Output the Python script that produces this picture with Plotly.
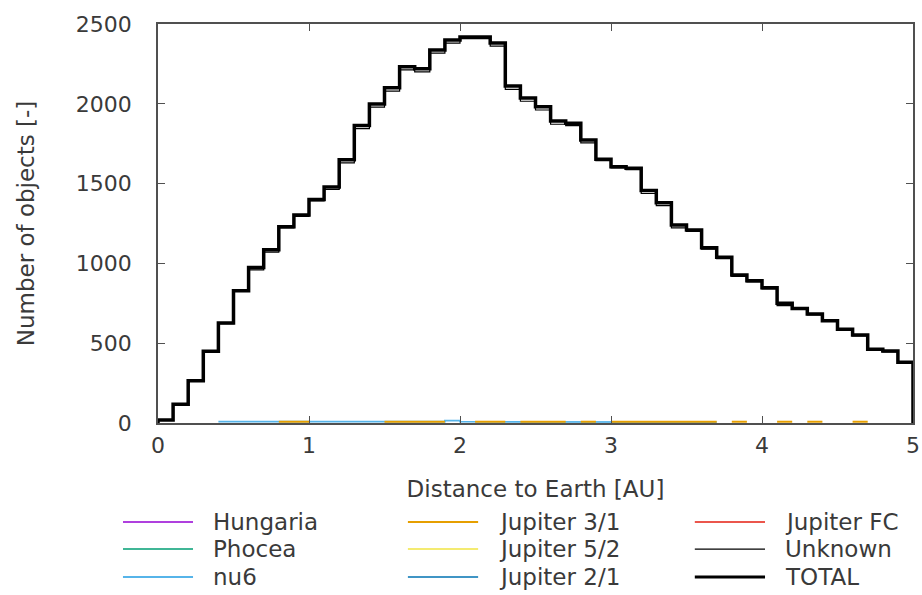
import numpy as np
import plotly.graph_objects as go

# ---------------- data ----------------
BIN_START = 0.0
BIN_WIDTH = 0.1
N_BINS = 50

total = [19, 117, 265, 450, 626, 828, 975, 1086, 1230, 1303,
         1400, 1478, 1650, 1864, 1999, 2100, 2232, 2220, 2337, 2400,
         2418, 2418, 2381, 2111, 2036, 1981, 1892, 1878, 1773, 1652,
         1606, 1596, 1456, 1380, 1241, 1209, 1098, 1038, 927, 892,
         848, 750, 718, 683, 641, 587, 551, 462, 451, 380]

unknown_deficit = [3, 3, 3, 3, 3, 3, 15, 15, 8, 8,
                   8, 15, 20, 20, 20, 20, 20, 20, 20, 20,
                   10, 10, 20, 20, 20, 20, 20, 15, 18, 8,
                   8, 8, 18, 18, 18, 8, 8, 8, 8, 8,
                   8, 15, 5, 5, 5, 5, 5, 5, 5, 5]
unknown = [t - d for t, d in zip(total, unknown_deficit)]

nu6 = [0, 0, 0, 0, 8, 8, 8, 8, 8, 8,
       8, 8, 8, 8, 8, 8, 8, 8, 8, 15,
       8, 6, 6, 8, 6, 6, 6, 8, 6, 8,
       6, 6, 6, 6, 6, 6, 6, 0, 0, 0,
       0, 0, 0, 0, 0, 0, 0, 0, 0, 0]

jup31 = [0, 0, 0, 0, 0, 0, 0, 0, 8, 8,
         0, 0, 0, 0, 0, 8, 8, 8, 8, 0,
         0, 8, 8, 0, 8, 8, 8, 0, 8, 0,
         8, 8, 8, 8, 8, 8, 8, 0, 8, 0,
         0, 8, 0, 8, 0, 0, 8, 0, 0, 0]

zeros = [0] * N_BINS
hungaria = zeros
phocea = zeros
jup52 = zeros
jup21 = zeros
jupfc = zeros

series_names = ["Hungaria", "Phocea", "nu6", "Jupiter 3/1", "Jupiter 5/2",
                "Jupiter 2/1", "Jupiter FC", "Unknown", "TOTAL"]
series_values = [hungaria, phocea, nu6, jup31, jup52, jup21, jupfc, unknown, total]
series_colors = ["#9400D3", "#009E73", "#56B4E9", "#E69F00", "#F0E442",
                 "#0072B2", "#E51E10", "#000000", "#000000"]
series_widths = [1.5, 1.5, 1.8, 2.0, 1.5, 1.5, 1.5, 1.2, 3.5]

x_ticks = [0, 1, 2, 3, 4, 5]
y_ticks = [0, 500, 1000, 1500, 2000, 2500]

# ---------------- figure ----------------
edges = BIN_START + BIN_WIDTH * np.arange(N_BINS + 1)
FONT = "DejaVu Sans"
FS = 22
FS_T = 23
TXT = "#3a3a3a"


def step_xy(vals, close_ends):
    """histogram-step outline; zero bins are left undrawn (they sit under the border)."""
    xs, ys = [], []
    if close_ends:
        xs.append(edges[0]); ys.append(0)
    prev = None
    for i, v in enumerate(vals):
        if v == 0 and not close_ends:
            if prev is not None:
                xs.append(None); ys.append(None)
            prev = None
            continue
        xs += [edges[i], edges[i + 1]]
        ys += [v, v]
        prev = v
    if close_ends:
        xs.append(edges[-1]); ys.append(0)
    return xs, ys


fig = go.Figure()
for name, vals, col, w in zip(series_names, series_values, series_colors, series_widths):
    xs, ys = step_xy(vals, close_ends=name in ("Unknown", "TOTAL"))
    fig.add_trace(go.Scatter(x=xs, y=ys, mode="lines", name=name,
                             line=dict(color=col, width=w), connectgaps=False,
                             showlegend=False, hoverinfo="skip"))

axis_common = dict(showline=True, linecolor="#505050", linewidth=1.5, mirror="ticks",
                   ticks="inside", ticklen=7, tickwidth=1.2, tickcolor="#505050",
                   showgrid=False, zeroline=False, automargin=False,
                   tickfont=dict(family=FONT, size=FS, color=TXT))

fig.update_layout(
    width=922, height=595,
    margin=dict(l=158, r=9, t=24, b=172),
    paper_bgcolor="white", plot_bgcolor="white",
    font=dict(family=FONT, size=FS, color=TXT),
    xaxis=dict(range=[0, 5], tickvals=x_ticks, ticktext=[str(v) for v in x_ticks],
               title=dict(text="Distance to Earth [AU]", standoff=24,
                          font=dict(family=FONT, size=FS_T, color=TXT)),
               ticklabelstandoff=2, **axis_common),
    yaxis=dict(range=[0, 2500], tickvals=y_ticks, ticktext=[str(v) for v in y_ticks],
               title=dict(text="Number of objects [-]", standoff=35,
                          font=dict(family=FONT, size=FS_T, color=TXT)),
               ticklabelstandoff=20, **axis_common),
    showlegend=False,
)

# manual gnuplot-style legend (3 columns x 3 rows, column-major)
col_line_x = [(-0.0464, 0.0464), (0.331, 0.424), (0.711, 0.804)]
col_text_x = [0.0702, 0.449, 0.828]
row_y = [-0.248, -0.316, -0.386]
for i, (name, col, w) in enumerate(zip(series_names, series_colors, series_widths)):
    c, r = divmod(i, 3)
    x0, x1 = col_line_x[c]
    fig.add_shape(type="line", xref="paper", yref="paper", x0=x0, x1=x1,
                  y0=row_y[r], y1=row_y[r], line=dict(color=col, width=min(w, 3)))
    fig.add_annotation(xref="paper", yref="paper", x=col_text_x[c], y=row_y[r],
                       text=name, showarrow=False, xanchor="left", yanchor="middle",
                       font=dict(family=FONT, size=FS_T, color=TXT))

fig.write_html("out.html")
